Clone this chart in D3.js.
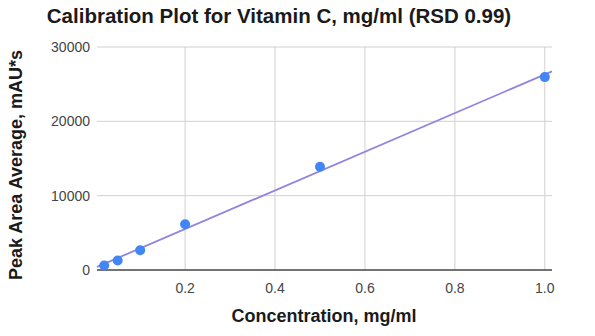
<!DOCTYPE html>
<html><head><meta charset="utf-8">
<script src="https://cdn.jsdelivr.net/npm/d3@7"></script>
<style>body{margin:0;background:#fff}svg{display:block}</style>
</head><body>
<script>
const concentration = [0.02, 0.05, 0.1, 0.2, 0.5, 1.0];
const peakArea = [600, 1280, 2650, 6150, 13880, 25950];
const xTicks = [0.2, 0.4, 0.6, 0.8, 1.0];
const yTicks = [0, 10000, 20000, 30000];
const title = "Calibration Plot for Vitamin C, mg/ml (RSD 0.99)";
const xTitle = "Concentration, mg/ml";
const yTitle = "Peak Area Average, mAU*s";

const W = 595, H = 336;
const svg = d3.select("body").append("svg").attr("width", W).attr("height", H);
const font = "Arial, 'Liberation Sans', sans-serif";

const x = d3.scaleLinear().domain([0.004, 1.016]).range([97, 552]);
const y = d3.scaleLinear().domain([0, 30000]).range([270, 47]);

// gridlines
svg.append("g").selectAll("line.h").data(yTicks.filter(d => d > 0)).join("line")
  .attr("x1", x.range()[0]).attr("x2", x.range()[1])
  .attr("y1", d => y(d)).attr("y2", d => y(d))
  .attr("stroke", "#d0d0d0").attr("stroke-width", 1);
svg.append("g").selectAll("line.v").data(xTicks).join("line")
  .attr("x1", d => x(d)).attr("x2", d => x(d))
  .attr("y1", y(30000)).attr("y2", y(0))
  .attr("stroke", "#d0d0d0").attr("stroke-width", 1);

// baseline
svg.append("line").attr("x1", x.range()[0]).attr("x2", x.range()[1])
  .attr("y1", y(0)).attr("y2", y(0)).attr("stroke", "#444").attr("stroke-width", 1.5);

// y tick labels
svg.append("g").selectAll("text").data(yTicks).join("text")
  .attr("x", 90).attr("y", d => y(d) + 5)
  .attr("text-anchor", "end").attr("font-family", font).attr("font-size", 14)
  .attr("fill", "#444").text(d => d);

// x tick labels
svg.append("g").selectAll("text").data(xTicks).join("text")
  .attr("x", d => x(d)).attr("y", 293)
  .attr("text-anchor", "middle").attr("font-family", font).attr("font-size", 14)
  .attr("fill", "#444").text(d => d.toFixed(1));

// trendline (least squares)
const n = concentration.length;
const mx = d3.mean(concentration), my = d3.mean(peakArea);
let sxy = 0, sxx = 0;
for (let i = 0; i < n; i++) { sxy += (concentration[i]-mx)*(peakArea[i]-my); sxx += (concentration[i]-mx)**2; }
const slope = sxy / sxx, intercept = my - slope * mx;
const [d0, d1] = x.domain();
svg.append("line")
  .attr("x1", x(d0)).attr("y1", y(intercept + slope*d0))
  .attr("x2", x(d1)).attr("y2", y(intercept + slope*d1))
  .attr("stroke", "#8f84e0").attr("stroke-width", 1.8);

// points
svg.append("g").selectAll("circle").data(concentration).join("circle")
  .attr("cx", d => x(d)).attr("cy", (d, i) => y(peakArea[i]))
  .attr("r", 5).attr("fill", "#4285f4");

// titles
svg.append("text").attr("x", 279).attr("y", 23).attr("text-anchor", "middle")
  .attr("font-family", font).attr("font-size", 20.5).attr("font-weight", "bold")
  .attr("fill", "#1a1a1a").text(title);
svg.append("text").attr("x", 324).attr("y", 322).attr("text-anchor", "middle")
  .attr("font-family", font).attr("font-size", 18).attr("font-weight", "bold")
  .attr("fill", "#1a1a1a").text(xTitle);
svg.append("text").attr("transform", "translate(22,165) rotate(-90)").attr("text-anchor", "middle")
  .attr("font-family", font).attr("font-size", 18).attr("font-weight", "bold")
  .attr("fill", "#1a1a1a").text(yTitle);
</script>
</body></html>
